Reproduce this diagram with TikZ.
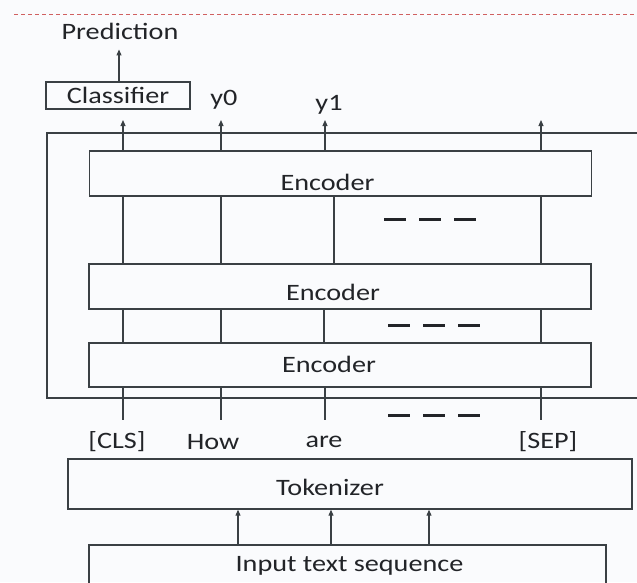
\documentclass[tikz,border=0pt]{standalone}
\usepackage{fontspec}
\setmainfont{Carlito}
\usepackage{graphicx}
\usetikzlibrary{arrows.meta}
\definecolor{ln}{HTML}{3A4044}
\definecolor{bg}{HTML}{FAFBFD}
\definecolor{reddash}{HTML}{D06060}
\definecolor{tx}{HTML}{222428}
\newcommand{\sx}[1]{\scalebox{1.2}[1]{#1}}
\newcommand{\tl}[3][0pt]{\hspace*{#1}\raisebox{#2}[0pt][0pt]{\sx{#3}}}
\begin{document}
\begin{tikzpicture}[x=1pt,y=-1pt,
 box/.style={draw=ln,line width=1.4pt,inner sep=0pt},
 txt/.style={font=\fontsize{23.5}{28}\selectfont, text=tx},
 link/.style={draw=ln,line width=1.1pt},
 arr/.style={link,-{Triangle[width=5pt,length=6pt]}},
 gap/.style={line width=3pt, draw=tx, dash pattern=on 22pt off 13pt}
]
\fill[bg] (0,0) rectangle (637,582);
\useasboundingbox (0,0) rectangle (637,582);
\draw[reddash,line width=0.9pt,dash pattern=on 4pt off 3pt] (14,14) -- (637,14);

% nodes
\node[txt,inner sep=0pt] (pred) at (120,31) {\sx{Prediction}};
\node[box,txt,minimum width=144,minimum height=27] (cls) at (118,95.5) {\tl{-7.5pt}{Classifier}};
\node[txt,inner sep=0pt] (y0) at (224,100) {\sx{y0}};
\node[txt,inner sep=0pt] (y1) at (329,105) {\sx{y1}};

\draw[ln,line width=1.4pt] (637,133) -- (47,133) -- (47,398) -- (637,398);

\node[box,txt,minimum width=502,minimum height=45] (enc1) at (340.5,173.5) {\tl[-26pt]{-16.7pt}{Encoder}};
\node[box,txt,minimum width=502,minimum height=45] (enc2) at (340,286.5) {\tl[-14pt]{-13.7pt}{Encoder}};
\node[box,txt,minimum width=502,minimum height=44] (enc3) at (340,365) {\tl[-22pt]{-7.2pt}{Encoder}};

\node[txt,inner sep=0pt] (tcls) at (117,442) {\sx{[CLS]}};
\node[txt,inner sep=0pt] (thow) at (213,442) {\sx{How}};
\node[txt,inner sep=0pt] (tare) at (324,442) {\sx{are}};
\node[txt,inner sep=0pt] (tsep) at (548,442) {\sx{[SEP]}};

\node[box,txt,minimum width=564,minimum height=50] (tok) at (350,484) {\tl[-40pt]{-11.2pt}{Tokenizer}};
\node[box,txt,minimum width=517,minimum height=44] (inp) at (347.5,567) {\tl[4pt]{-4.2pt}{Input text sequence}};

% coordinates
\coordinate (o1) at (123,120);
\coordinate (o2) at (221,120);
\coordinate (o3) at (325,120);
\coordinate (o4) at (541,120);
\coordinate (b1) at (123,420);
\coordinate (b2) at (221,420);
\coordinate (b3) at (325,420);
\coordinate (b4) at (541,420);

% connectors
\draw[arr,shorten >=10pt] (cls.north -| 119,0) -- (pred.south -| 119,0);
\foreach \c in {o1,o2,o3,o4}{\draw[arr] (enc1.north -| \c) -- (\c);}
\foreach \x in {123,221,334,541}{\draw[link] (enc1.south -| \x,0) -- (enc2.north -| \x,0);}
\foreach \x in {123,221,324,541}{\draw[link] (enc2.south -| \x,0) -- (enc3.north -| \x,0);}
\foreach \c in {b1,b2,b3,b4}{\draw[link] (enc3.south -| \c) -- (\c);}
\foreach \x in {238,331,429}{\draw[arr] (inp.north -| \x,0) -- (tok.south -| \x,0);}

% ellipses
\draw[gap] (384,219) -- (476,219);
\draw[gap] (388,325) -- (480,325);
\draw[gap] (388,415) -- (480,415);
\end{tikzpicture}
\end{document}
